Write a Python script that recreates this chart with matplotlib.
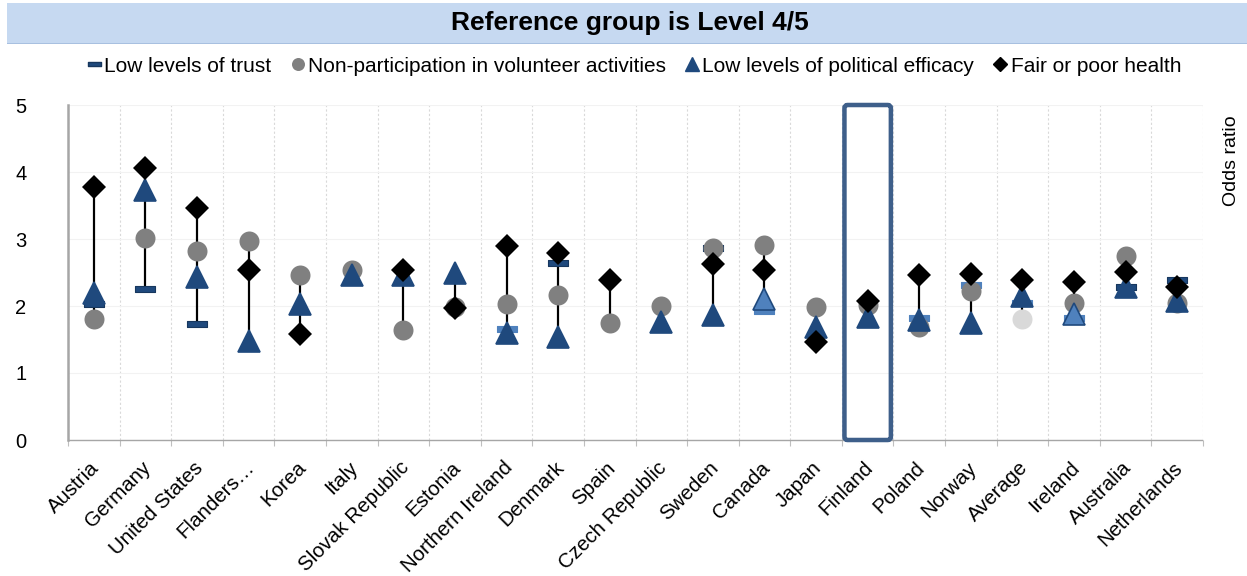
import numpy as np
import matplotlib
matplotlib.use("Agg")
import matplotlib.pyplot as plt
import matplotlib.transforms as mtransforms
from matplotlib.path import Path
from matplotlib.patches import Rectangle, FancyBboxPatch
from matplotlib.lines import Line2D

nan = np.nan

countries = ["Austria", "Germany", "United States", "Flanders\u2026", "Korea", "Italy",
             "Slovak Republic", "Estonia", "Northern Ireland", "Denmark", "Spain",
             "Czech Republic", "Sweden", "Canada", "Japan", "Finland", "Poland",
             "Norway", "Average", "Ireland", "Australia", "Netherlands"]

trust = [2.03, 2.26, 1.73, nan, nan, nan, nan, nan, 1.65, 2.64, nan,
         nan, 2.87, 1.92, nan, nan, 1.82, 2.31, 2.05, 1.82, 2.29, 2.39]
volunteer = [1.80, 3.01, 2.82, 2.97, 2.47, 2.54, 1.64, 1.99, 2.03, 2.16, 1.75,
             2.00, 2.86, 2.91, 1.99, 2.01, 1.68, 2.22, 1.80, 2.05, 2.75, 2.04]
efficacy = [2.19, 3.73, 2.43, 1.48, 2.03, 2.47, 2.47, 2.49, 1.60, 1.53, nan,
            1.76, 1.86, 2.11, 1.69, 1.84, 1.79, 1.75, 2.15, 1.88, 2.29, 2.08]
health = [3.78, 4.06, 3.47, 2.54, 1.58, nan, 2.54, 1.97, 2.90, 2.79, 2.39,
          nan, 2.63, 2.54, 1.47, 2.07, 2.46, 2.48, 2.39, 2.36, 2.51, 2.28]

highlight = "Finland"

DARK_BLUE = "#1f497d"
LIGHT_BLUE = "#4f81bd"
GREY = "#808080"
LIGHT_GREY = "#d9d9d9"

trust_col = [DARK_BLUE, DARK_BLUE, DARK_BLUE, None, None, None, None, None, LIGHT_BLUE, DARK_BLUE, None,
             None, DARK_BLUE, LIGHT_BLUE, None, None, LIGHT_BLUE, LIGHT_BLUE, LIGHT_BLUE, LIGHT_BLUE,
             DARK_BLUE, DARK_BLUE]
eff_col = [LIGHT_BLUE if c in ("Canada", "Ireland") else DARK_BLUE for c in countries]
vol_col = [LIGHT_GREY if c == "Average" else GREY for c in countries]

plt.rcParams['font.family'] = ['Liberation Sans', 'DejaVu Sans']

fig = plt.figure(figsize=(12.47, 5.76), dpi=100)
ax = fig.add_axes([68/1247, 136/576, (1203-68)/1247, (440-105)/576])

x = np.arange(len(countries))
px = 0.72  # points per pixel

# high-low lines
allv = np.array([trust, volunteer, efficacy, health], dtype=float)
lo = np.nanmin(allv, axis=0)
hi = np.nanmax(allv, axis=0)
ax.vlines(x, lo, hi, color="black", lw=2.2*px, zorder=2)

bar_marker = Path([(-1, -0.28), (1, -0.28), (1, 0.28), (-1, 0.28), (-1, -0.28)],
                  [Path.MOVETO, Path.LINETO, Path.LINETO, Path.LINETO, Path.CLOSEPOLY])

for i in range(len(countries)):
    if not np.isnan(trust[i]):
        ax.plot(x[i], trust[i], marker=bar_marker, ms=20*px, mfc=trust_col[i],
                mec="#17375e" if trust_col[i] == DARK_BLUE else LIGHT_BLUE, mew=0.8, ls="none", zorder=3)
    if not np.isnan(volunteer[i]):
        ax.plot(x[i], volunteer[i], marker="o", ms=20*px, mfc=vol_col[i], mec=vol_col[i],
                mew=0, ls="none", zorder=4)
    if not np.isnan(efficacy[i]):
        ax.plot(x[i], efficacy[i], marker="^", ms=22*px, mfc=eff_col[i],
                mec=DARK_BLUE, mew=1.2, ls="none", zorder=5)
    if not np.isnan(health[i]):
        ax.plot(x[i], health[i], marker="D", ms=17*px, mfc="black", mec="black",
                mew=0, ls="none", zorder=6)

# highlight box
hi_i = countries.index(highlight)
box = FancyBboxPatch((hi_i - 0.45, 0.0), 0.9, 5.0, boxstyle="round,pad=0,rounding_size=0.06",
                     fill=False, ec="#3e5f8a", lw=4.5*px, zorder=7, clip_on=False,
                     mutation_aspect=5 / (335/51.6))
ax.add_patch(box)

ax.set_xlim(-0.5, len(countries) - 0.5)
ax.set_ylim(0, 5)
ax.set_yticks([0, 1, 2, 3, 4, 5])
ax.set_yticklabels(["0", "1", "2", "3", "4", "5"], fontsize=14.5)
ax.tick_params(axis="y", length=0, pad=30)
ax.set_xticks(x)
ax.set_xticklabels(countries, rotation=45, ha="right", rotation_mode="anchor", fontsize=14.8)
ax.tick_params(axis="x", length=0, pad=13)
shift = mtransforms.ScaledTranslation(-4/100, 0, fig.dpi_scale_trans)
for lab in ax.get_xticklabels():
    lab.set_transform(lab.get_transform() + shift)

# gridlines
ax.set_xticks(np.arange(-0.5, len(countries), 1), minor=True)
ax.tick_params(axis="x", which="minor", length=4, color="#bfbfbf", width=0.8)
ax.grid(axis="x", which="minor", color="#d9d9d9", ls=(0, (2, 2)), lw=0.8)
ax.grid(axis="y", which="major", color="#f2f2f2", lw=0.8)
ax.set_axisbelow(True)

for s in ["top", "right"]:
    ax.spines[s].set_visible(False)
ax.spines["left"].set_color("#a6a6a6")
ax.spines["left"].set_linewidth(1.8)
ax.spines["bottom"].set_color("#a6a6a6")
ax.spines["bottom"].set_linestyle((0, (1.5, 1)))
ax.spines["bottom"].set_linewidth(1.0)

# title banner
fig.patches.append(Rectangle((7/1247, 1 - 43/576), 1 - 7/1247, 40/576, transform=fig.transFigure,
                             fc="#c6d9f1", ec="none", zorder=0))
fig.patches.append(Rectangle((7/1247, 1 - 44/576), 1 - 7/1247, 1.5/576, transform=fig.transFigure,
                             fc="#a8c0e0", ec="none", zorder=0))
fig.text(630/1247, 1 - 23/576, "Reference group is Level 4/5", ha="center", va="center",
         fontsize=19, fontweight="bold")

# legend
handles = [
    Line2D([], [], marker=bar_marker, ms=13*px, mfc=DARK_BLUE, mec="#17375e", ls="none"),
    Line2D([], [], marker="o", ms=13*px, mfc=GREY, mec=GREY, mew=0, ls="none"),
    Line2D([], [], marker="^", ms=14*px, mfc=DARK_BLUE, mec=DARK_BLUE, ls="none"),
    Line2D([], [], marker="D", ms=10*px, mfc="black", mec="black", ls="none"),
]
labels = ["Low levels of trust", "Non-participation in volunteer activities",
          "Low levels of political efficacy", "Fair or poor health"]
fig.legend(handles, labels, loc="center", bbox_to_anchor=(634/1247, 1 - 66/576), ncol=4,
           frameon=False, fontsize=15, handlelength=0.7, handletextpad=0.15, columnspacing=0.9)

fig.text(1232/1247, 1 - 161/576, "Odds ratio", rotation=90, ha="center", va="center", fontsize=14)

fig.savefig("out.png", dpi=100)
